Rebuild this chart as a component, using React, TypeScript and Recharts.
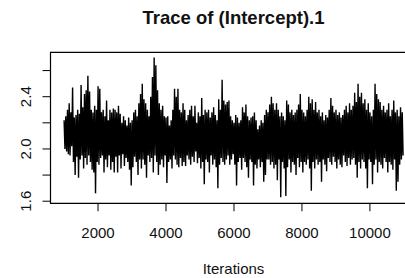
import React from 'react';
import { LineChart, Line, XAxis, YAxis, ReferenceArea } from 'recharts';

// MCMC trace, thinned: one value every 25 iterations starting at 1001
const traceStart = 1001;
const traceThin = 25;
const traceValues: number[] = [
  2.22, 2.00, 2.25, 1.98, 2.30, 1.96, 2.35, 1.95, 2.28, 2.02, 2.47, 1.90, 2.24, 1.80, 2.26, 1.94, 2.30, 1.78, 2.27, 1.92,
  2.49, 1.95, 2.32, 1.85, 2.42, 1.93, 2.45, 1.88, 2.56, 1.95, 2.44, 1.90, 2.30, 1.84, 2.28, 1.82, 2.33, 1.66, 2.30, 1.90,
  2.48, 1.88, 2.46, 1.93, 2.28, 1.95, 2.30, 1.82, 2.25, 1.92, 2.37, 1.86, 2.22, 1.95, 2.30, 1.84, 2.28, 1.90, 2.31, 1.82,
  2.30, 1.94, 2.28, 1.82, 2.33, 1.95, 2.27, 1.85, 2.20, 1.96, 2.25, 1.87, 2.22, 1.93, 2.18, 1.90, 2.24, 1.84, 2.20, 1.72,
  2.22, 1.86, 2.28, 1.94, 2.30, 1.90, 2.25, 1.80, 2.35, 1.92, 2.42, 1.85, 2.50, 1.92, 2.38, 1.88, 2.35, 1.78, 2.30, 1.95,
  2.25, 1.90, 2.40, 1.93, 2.55, 1.82, 2.70, 1.95, 2.64, 1.90, 2.45, 1.80, 2.35, 1.88, 2.30, 1.92, 2.33, 1.86, 2.25, 1.95,
  2.24, 1.74, 2.25, 1.90, 2.18, 1.92, 2.22, 1.85, 2.30, 1.95, 2.46, 1.92, 2.40, 1.88, 2.46, 1.86, 2.30, 1.93, 2.28, 1.87,
  2.35, 1.90, 2.30, 1.87, 2.22, 1.95, 2.26, 1.92, 2.30, 1.88, 2.33, 1.94, 2.25, 1.90, 2.33, 1.98, 2.20, 1.89, 2.28, 1.93,
  2.25, 1.85, 2.39, 1.90, 2.26, 1.73, 2.30, 1.92, 2.28, 1.90, 2.30, 1.82, 2.24, 1.95, 2.28, 1.88, 2.32, 1.92, 2.26, 1.86,
  2.22, 1.70, 2.38, 1.88, 2.30, 1.93, 2.53, 1.90, 2.37, 1.88, 2.34, 1.92, 2.36, 1.95, 2.37, 1.88, 2.25, 1.92, 2.22, 1.96,
  2.20, 1.88, 2.26, 1.72, 2.24, 1.90, 2.20, 1.93, 2.22, 1.84, 2.32, 1.93, 2.28, 1.90, 2.34, 1.86, 2.25, 1.78, 2.22, 1.92,
  2.24, 1.90, 2.25, 1.72, 2.28, 1.88, 2.22, 1.85, 2.15, 1.92, 2.18, 1.86, 2.22, 1.90, 2.20, 1.75, 2.26, 1.80, 2.30, 1.92,
  2.28, 1.92, 2.34, 1.88, 2.40, 1.90, 2.35, 1.85, 2.30, 1.88, 2.35, 1.76, 2.30, 1.92, 2.25, 1.63, 2.28, 1.90, 2.25, 1.85,
  2.22, 1.64, 2.37, 1.86, 2.34, 1.92, 2.28, 1.82, 2.30, 1.90, 2.26, 1.88, 2.28, 1.80, 2.30, 1.93, 2.34, 1.86, 2.42, 1.90,
  2.30, 1.82, 2.28, 1.90, 2.25, 1.88, 2.30, 1.92, 2.40, 1.85, 2.35, 1.68, 2.38, 1.90, 2.30, 1.85, 2.36, 1.92, 2.28, 1.88,
  2.30, 1.90, 2.25, 1.75, 2.28, 1.92, 2.22, 1.88, 2.26, 1.83, 2.24, 1.93, 2.30, 1.90, 2.39, 1.88, 2.33, 1.94, 2.28, 1.90,
  2.30, 1.85, 2.26, 1.92, 2.28, 1.88, 2.24, 1.86, 2.26, 1.95, 2.30, 1.90, 2.33, 1.87, 2.28, 1.93, 2.35, 1.88, 2.30, 1.92,
  2.33, 1.93, 2.43, 1.88, 2.36, 1.78, 2.50, 1.90, 2.40, 1.85, 2.43, 1.92, 2.35, 1.90, 2.38, 1.85, 2.30, 1.70, 2.35, 1.92,
  2.28, 1.90, 2.25, 1.73, 2.30, 1.88, 2.50, 1.92, 2.42, 1.82, 2.38, 1.90, 2.36, 1.88, 2.30, 1.85, 2.33, 1.93, 2.28, 1.90,
  2.30, 1.82, 2.35, 1.90, 2.25, 1.88, 2.30, 1.84, 2.37, 1.92, 2.28, 1.68, 2.30, 1.75, 2.25, 1.88, 2.32, 1.92, 2.28, 1.95,
];

const xTicks = [2000, 4000, 6000, 8000, 10000];
const yTicks = [1.6, 1.8, 2.0, 2.2, 2.4, 2.6];
const yLabelled = [1.6, 2.0, 2.4];

const xDomain: [number, number] = [601, 11400];
const yDomain: [number, number] = [1.584, 2.74];

const font = '"Liberation Sans", Arial, sans-serif';

const data = traceValues.map((v, i) => ({ iter: traceStart + i * traceThin, value: v }));

const XTick = (props: any) => {
  const { x, y, payload } = props;
  return (
    <g>
      <line x1={x} x2={x} y1={y - 10} y2={y - 2} stroke="#000" />
      <text x={x} y={y + 25} textAnchor="middle" fontSize={15} fontFamily={font} fill="#111">
        {payload.value}
      </text>
    </g>
  );
};

const YTick = (props: any) => {
  const { x, y, payload } = props;
  const v = Number(payload.value);
  const show = yLabelled.some((t) => Math.abs(t - v) < 1e-6);
  return (
    <g>
      <line x1={x + 2} x2={x + 10} y1={y} y2={y} stroke="#000" />
      {show && (
        <text
          transform={`translate(${x - 9.5},${y}) rotate(-90)`}
          textAnchor="middle"
          fontSize={15}
          fontFamily={font}
          fill="#111"
        >
          {v.toFixed(1)}
        </text>
      )}
    </g>
  );
};

const App: React.FC = () => {
  return (
    <div
      style={{
        position: 'fixed',
        left: 0,
        top: 0,
        width: 405,
        height: 278,
        overflow: 'hidden',
        background: '#fff',
        fontFamily: font,
      }}
    >
      <div
        style={{
          position: 'absolute',
          top: 9.3,
          left: 50,
          width: 367,
          textAlign: 'center',
          fontSize: 18.5,
          lineHeight: '18.5px',
          fontWeight: 'bold',
          color: '#111',
        }}
      >
        Trace of (Intercept).1
      </div>
      <LineChart
        width={420}
        height={278}
        data={data}
        margin={{ top: 52.3, right: 2.5, bottom: 0, left: 0 }}
      >
        <XAxis
          type="number"
          dataKey="iter"
          domain={xDomain}
          ticks={xTicks}
          interval={0}
          allowDataOverflow
          axisLine={false}
          tickLine={false}
          tickSize={8}
          tick={<XTick />}
          height={74.7}
        />
        <YAxis
          type="number"
          domain={yDomain}
          ticks={yTicks}
          interval={0}
          allowDataOverflow
          axisLine={false}
          tickLine={false}
          tickSize={8}
          tick={<YTick />}
          width={50.5}
        />
        <Line
          type="linear"
          dataKey="value"
          stroke="#000"
          strokeWidth={1.4}
          dot={false}
          isAnimationActive={false}
        />
        <ReferenceArea
          x1={xDomain[0]}
          x2={xDomain[1]}
          y1={yDomain[0]}
          y2={yDomain[1]}
          fill="none"
          stroke="#000"
          strokeWidth={1.2}
          ifOverflow="visible"
        />
      </LineChart>
      <div
        style={{
          position: 'absolute',
          top: 261.3,
          left: 50,
          width: 367,
          textAlign: 'center',
          fontSize: 15,
          lineHeight: '15px',
          color: '#111',
        }}
      >
        Iterations
      </div>
    </div>
  );
};

export default App;
